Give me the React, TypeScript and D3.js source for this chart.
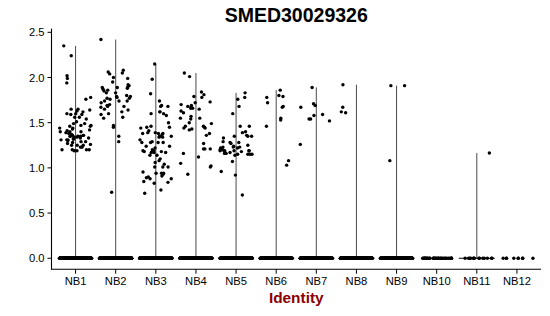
import React from "react";
import * as d3 from "d3";

const categories = ["NB1", "NB2", "NB3", "NB4", "NB5", "NB6", "NB7", "NB8", "NB9", "NB10", "NB11", "NB12"];

const nb1 = [2.35,2.24,2.02,1.99,1.94,1.78,1.76,1.65,1.65,1.62,1.64,1.63,1.60,1.59,1.59,1.60,1.54,1.56,1.56,1.49,1.47,1.47,1.44,1.44,1.46,1.49,1.51,1.46,1.40,1.39,1.40,1.40,1.43,1.41,1.36,1.35,1.34,1.35,1.36,1.35,1.34,1.35,1.31,1.29,1.32,1.31,1.31,1.29,1.33,1.25,1.23,1.26,1.27,1.23,1.25,1.25,1.20,1.20,1.20,1.20,1.23,1.19,1.19,1.38,1.33,1.30,1.28,1.42,1.37,1.36,1.32];
const nb2 = [2.42,2.05,2.08,2.06,2.04,1.95,1.92,1.89,1.99,2.00,1.89,1.88,1.91,1.89,1.87,1.86,1.83,1.83,1.79,1.79,1.77,1.78,1.74,1.74,1.74,1.68,1.72,1.69,1.68,1.64,1.62,1.65,1.67,1.59,1.55,1.60,1.56,1.47,1.45,1.35,1.29,1.77,0.73,1.80,1.85,1.70,1.76];
const nb3 = [2.15,1.98,1.82,1.74,1.68,1.68,1.69,1.60,1.62,1.62,1.60,1.58,1.46,1.50,1.45,1.45,1.44,1.41,1.39,1.38,1.38,1.37,1.34,1.35,1.34,1.35,1.39,1.38,1.29,1.28,1.28,1.28,1.31,1.28,1.24,1.22,1.24,1.18,1.20,1.18,1.17,1.19,1.17,1.14,1.14,1.17,1.19,1.08,1.06,1.10,1.04,1.01,1.01,1.01,0.955,0.94,0.94,0.93,0.94,0.91,0.90,0.88,0.88,0.84,0.83,0.755,0.72,0.85,0.89];
const nb4 = [2.05,2.01,1.84,1.81,1.78,1.79,1.73,1.72,1.70,1.69,1.68,1.66,1.65,1.67,1.66,1.55,1.63,1.57,1.54,1.55,1.46,1.49,1.43,1.44,1.42,1.45,1.46,1.61,1.50,1.44,1.36,1.38,1.27,1.16,1.12,1.21,1.01,1.02,1.05,0.93,1.21,1.21];
const nb5 = [1.83,1.78,1.76,1.68,1.60,1.36,1.35,1.46,1.46,1.40,1.39,1.35,1.35,1.33,1.29,1.28,1.25,1.23,1.23,1.22,1.23,1.24,1.28,1.27,1.22,1.20,1.18,1.17,1.20,1.18,1.16,1.15,1.15,1.15,1.19,1.19,1.19,1.19,1.14,1.19,1.15,1.07,0.96,0.92,0.70,1.20,1.16];
const nb6 = [1.86,1.80,1.79,1.78,1.72,1.67,1.68,1.53,1.55,1.46,1.08,1.03];
const nb7 = [1.71,1.67,1.54,1.26,1.89,1.69,1.59,1.58,1.54,1.52];
const nb8 = [1.67,1.92,1.61,1.62];
const nb9 = [1.91,1.91,1.08];
const nb10: number[] = [];
const nb11 = [1.165];
const nb12: number[] = [];

const expressed = [nb1, nb2, nb3, nb4, nb5, nb6, nb7, nb8, nb9, nb10, nb11, nb12];
const zeroCounts = [400, 400, 400, 400, 400, 250, 250, 250, 220, 35, 14, 9];

const yTicks = [0, 0.5, 1.0, 1.5, 2.0, 2.5];
const title = "SMED30029326";
const xTitle = "Identity";

const W = 550;
const H = 316;
const FONT = "'Liberation Sans', Arial, Helvetica, sans-serif";

export default function App() {
  const left = 51.5;
  const right = 541;
  const allVals = expressed.flat();
  const maxV = d3.max(allVals) ?? 1;
  const span = maxV - 0;
  const y = d3.scaleLinear().domain([0 - span * 0.05, maxV + span * 0.05]).range([269.2, 28.6]);
  const x = d3.scalePoint<string>().domain(categories).range([left, right]).padding(0.6);
  const step = x.step();

  const rng = d3.randomLcg(0.12345);
  const jit = d3.randomUniform.source(rng)(-0.4, 0.4);

  const points: { cx: number; cy: number }[] = [];
  categories.forEach((c, i) => {
    const cxC = x(c)!;
    for (let k = 0; k < zeroCounts[i]; k++) {
      points.push({ cx: cxC + jit() * step, cy: y(0) });
    }
    expressed[i].forEach((v) => {
      points.push({ cx: cxC + jit() * step, cy: y(v) });
    });
  });

  const yBottom = y.range()[0];
  const yTop = y.range()[1];

  return (
    <svg width={W} height={H} style={{ position: "absolute", left: 0, top: 0, background: "#fff" }} fontFamily={FONT}>
      <rect x={0} y={0} width={W} height={H} fill="#fff" />
      {/* violins (degenerate: vertical line from 0 to max) */}
      {categories.map((c, i) => {
        const mx = d3.max(expressed[i]);
        if (mx === undefined) return null;
        const cx = x(c)!;
        return (
          <g key={"v" + c}>
            <line x1={cx} x2={cx} y1={y(0)} y2={y(mx)} stroke="#4a4a4a" strokeWidth={1} />
            <line x1={cx - step * 0.45} x2={cx + step * 0.45} y1={y(0)} y2={y(0)} stroke="#000" strokeWidth={1} />
          </g>
        );
      })}
      {/* points */}
      {points.map((p, i) => (
        <circle key={i} cx={p.cx} cy={p.cy} r={1.7} fill="#000" />
      ))}
      {/* axes */}
      <line x1={left} x2={left} y1={yTop} y2={yBottom + 0.5} stroke="#000" strokeWidth={1.1} />
      <line x1={left} x2={right} y1={yBottom} y2={yBottom} stroke="#000" strokeWidth={1.1} />
      {yTicks.map((t) => (
        <g key={"yt" + t}>
          <line x1={left - 4} x2={left} y1={y(t)} y2={y(t)} stroke="#000" strokeWidth={1} />
          <text x={left - 7} y={y(t)} dy="0.36em" textAnchor="end" fontSize={11.2} fill="#000">
            {d3.format(".1f")(t)}
          </text>
        </g>
      ))}
      {categories.map((c) => (
        <g key={"xt" + c}>
          <line x1={x(c)!} x2={x(c)!} y1={yBottom} y2={yBottom + 4.5} stroke="#000" strokeWidth={1} />
          <text x={x(c)!} y={285.2} textAnchor="middle" fontSize={11.2} fill="#000">
            {c}
          </text>
        </g>
      ))}
      <text x={(left + right) / 2} y={22} textAnchor="middle" fontSize={19.5} fontWeight="bold" fill="#000">
        {title}
      </text>
      <text x={(left + right) / 2} y={302.5} textAnchor="middle" fontSize={15.4} fontWeight="bold" fill="#8B0000">
        {xTitle}
      </text>
    </svg>
  );
}
